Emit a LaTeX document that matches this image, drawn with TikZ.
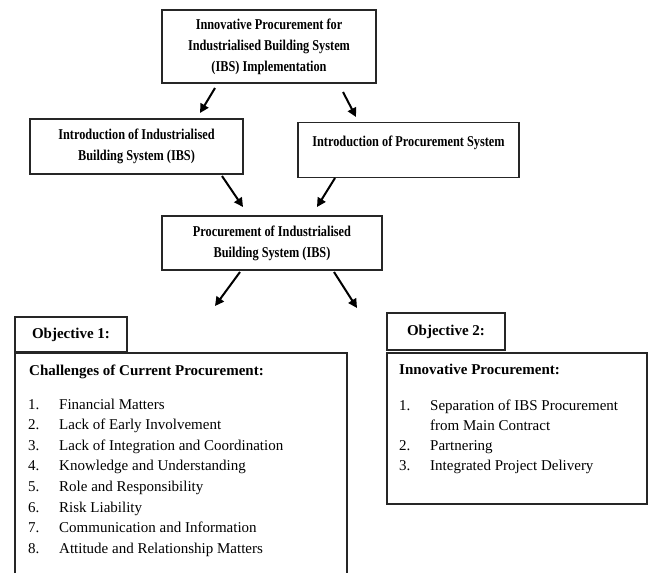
\documentclass[tikz,border=0pt]{standalone}
\usepackage{fontspec}
\setmainfont{Liberation Serif}
\newfontfamily\headfont[FakeStretch=0.82]{Liberation Serif}
\usetikzlibrary{arrows.meta}
\tikzset{
  box/.style={draw=black!85, line width=1.2pt, inner sep=0pt, align=center,
    font={\fontsize{15}{21}\selectfont\headfont\bfseries}},
  objbox/.style={draw=black!85, line width=1.2pt, inner sep=0pt,
    font={\fontsize{15}{20.5}\selectfont\bfseries}},
  arr/.style={line width=2pt, -{Triangle[length=9pt,width=9pt]}},
  item/.style={anchor=base west, inner sep=0pt, font={\fontsize{15}{20.5}\selectfont}},
  itemhead/.style={anchor=base west, inner sep=0pt, font={\fontsize{15}{20.5}\selectfont\bfseries}}
}
\begin{document}
\begin{tikzpicture}[x=1pt,y=-1pt]
\useasboundingbox (0,0) rectangle (661,573);
\fill[white] (0,0) rectangle (661,573);

% boxes
\node[box, minimum width=214pt, minimum height=73pt] (top) at (269,46.5)
  {Innovative Procurement for\\Industrialised Building System\\(IBS) Implementation};
\node[box, minimum width=213pt, minimum height=55pt] (ibs) at (136.5,146.5)
  {Introduction of Industrialised\\Building System (IBS)};
\node[box, minimum width=221pt, text height=24pt, text depth=31pt, anchor=north] (proc) at (408.5,122)
  {Introduction of Procurement System};
\node[box, minimum width=220pt, minimum height=54pt] (mid) at (272,243)
  {Procurement of Industrialised\\Building System (IBS)};
\node[objbox, minimum width=112pt, minimum height=35pt] (obj1) at (71,334.5) {Objective 1:};
\node[objbox, minimum width=118pt, minimum height=37pt] (obj2) at (446,331.5) {Objective 2:};

% list boxes
\coordinate (c1a) at (15,573);
\coordinate (c1b) at (15,353);
\coordinate (c1c) at (347,353);
\coordinate (c1d) at (347,573);
\draw[draw=black!85, line width=1.2pt] (c1a) -- (c1b) -- (c1c) -- (c1d);
\node[draw=black!85, line width=1.2pt, inner sep=0pt, minimum width=260pt, minimum height=151pt] (innov) at (517,428.5) {};

% list 1
\node[itemhead] (h1) at (29,375) {Challenges of Current Procurement:};
\foreach \n/\t [count=\i from 0] in {1/Financial Matters,2/Lack of Early Involvement,3/Lack of Integration and Coordination,4/Knowledge and Understanding,5/Role and Responsibility,6/Risk Liability,7/Communication and Information,8/Attitude and Relationship Matters}{
  \node[item] (na\n) at (28,409+20.6*\i) {\n.};
  \node[item] (ta\n) at (59,409+20.6*\i) {\t};
}

% list 2
\node[itemhead] (h2) at (399,374) {Innovative Procurement:};
\node[item] (nb1) at (399,410) {1.};
\node[item] (tb1) at (430,410) {Separation of IBS Procurement};
\node[item] (tb1b) at (430,430.3) {from Main Contract};
\node[item] (nb2) at (399,450.6) {2.};
\node[item] (tb2) at (430,450.6) {Partnering};
\node[item] (nb3) at (399,470.9) {3.};
\node[item] (tb3) at (430,470.9) {Integrated Project Delivery};

% arrows
\coordinate (a1s) at (215,88);   \coordinate (a1e) at (200,113);
\coordinate (a2s) at (343,92);   \coordinate (a2e) at (356,117);
\coordinate (a3s) at (222,176);  \coordinate (a3e) at (243,207);
\coordinate (a4s) at (335,178);  \coordinate (a4e) at (317,207);
\coordinate (a5s) at (240,272);  \coordinate (a5e) at (215,306);
\coordinate (a6s) at (334,272);  \coordinate (a6e) at (357,308);
\draw[arr] (a1s) -- (a1e);
\draw[arr] (a2s) -- (a2e);
\draw[arr] (a3s) -- (a3e);
\draw[arr] (a4s) -- (a4e);
\draw[arr] (a5s) -- (a5e);
\draw[arr] (a6s) -- (a6e);
\end{tikzpicture}
\end{document}
